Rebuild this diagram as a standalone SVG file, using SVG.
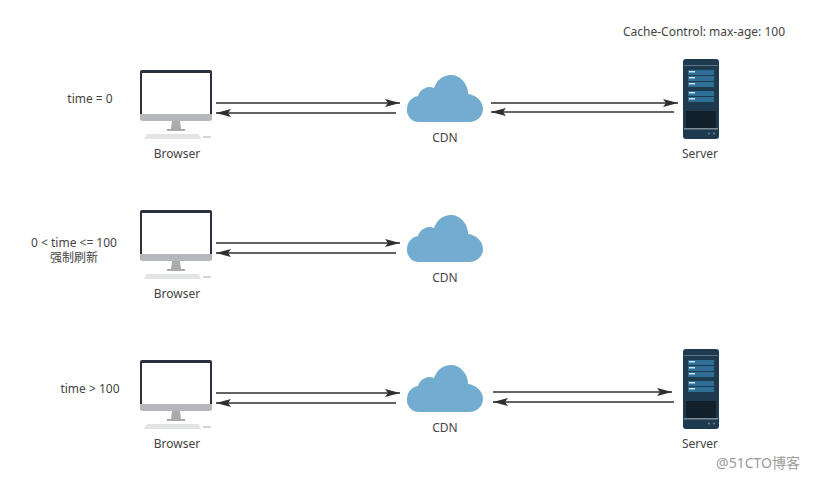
<svg xmlns="http://www.w3.org/2000/svg" width="816" height="480" viewBox="0 0 816 480">
<style>
text{font-family:"Noto Sans","Noto Sans CJK SC",sans-serif;font-size:12px;fill:#444;text-anchor:middle}
.c{stroke:#2f2f2f;stroke-width:1.6;fill:none}
.wm{fill:#9a9a9a;font-size:14px}
</style>
<defs>
<marker id="a" markerUnits="userSpaceOnUse" markerWidth="16" markerHeight="10" refX="15" refY="4" orient="auto"><path d="M0 0L15 4L0 8L3 4Z" fill="#2f2f2f"/></marker>
<g id="pc">
<rect x="0" y="0" width="72" height="50" rx="2" fill="#2a3040"/>
<rect x="2" y="3" width="68" height="41" fill="#fff"/>
<path d="M0 44h72v4a3 3 0 0 1-3 3H3a3 3 0 0 1-3-3Z" fill="#b5b7ba"/>
<path d="M32 51h8l1 8h4v2H27v-2h4Z" fill="#a9abab"/>
<path d="M7 64h52l2 5H4Z" fill="#e3e5e5"/>
<rect x="63" y="66" width="8" height="2" fill="#d5d7d7"/>
</g>
<g id="cl"><path d="M419 122a12 12 0 0 1-12-13c0-7 5-12 11-13a12 12 0 0 1 16-8c3-8 9-13 17-13 9 0 16 8 17 17 0 1 0 2 0 2 8 1 15 7 15 15 0 7-6 13-14 13Z" fill="#72acd0"/></g>
<g id="sv">
<rect x="0" y="0" width="36" height="80" rx="3" fill="#1e3a4e"/>
<rect x="1" y="6" width="34" height="1" fill="#5d7485"/>
<rect x="5" y="11" width="26" height="5" fill="#2f6f95"/><rect x="5" y="17" width="26" height="5" fill="#2f6f95"/>
<rect x="5" y="23" width="26" height="5" fill="#2f6f95"/><rect x="5" y="32" width="26" height="5" fill="#2f6f95"/>
<rect x="5" y="38" width="26" height="5" fill="#2f6f95"/>
<rect x="6" y="12" width="6" height="1.5" fill="#cfe3ee"/><rect x="6" y="18" width="6" height="1.5" fill="#cfe3ee"/><rect x="6" y="24" width="6" height="1.5" fill="#cfe3ee"/><rect x="6" y="33" width="6" height="1.5" fill="#cfe3ee"/><rect x="6" y="39" width="6" height="1.5" fill="#cfe3ee"/>
<rect x="3" y="52" width="30" height="17" fill="#12202c"/>
<rect x="1" y="69" width="34" height="1.5" fill="#7c8c98"/>
<circle cx="26" cy="74.500" r="1" fill="#6d8394"/><circle cx="31" cy="74.500" r="1" fill="#6d8394"/>
</g>
</defs>
<g id="connectors">
<path class="c" marker-end="url(#a)" d="M216 103H400"/><path class="c" marker-end="url(#a)" d="M396 113H216"/>
<path class="c" marker-end="url(#a)" d="M491 103H678"/><path class="c" marker-end="url(#a)" d="M674 112H491"/>
<path class="c" marker-end="url(#a)" d="M216 243H400"/><path class="c" marker-end="url(#a)" d="M396 253H216"/>
<path class="c" marker-end="url(#a)" d="M216 393H400"/><path class="c" marker-end="url(#a)" d="M396 403H216"/>
<path class="c" marker-end="url(#a)" d="M493 392H672"/><path class="c" marker-end="url(#a)" d="M674 402H493"/>
</g>
<g id="browser1"><use href="#pc" x="140" y="70"/><text x="177" y="158">Browser</text></g>
<g id="cdn1"><use href="#cl"/><text x="445" y="142">CDN</text></g>
<g id="server1"><use href="#sv" x="683" y="59"/><text x="700" y="158">Server</text></g>
<g id="browser2"><use href="#pc" x="140" y="210"/><text x="177" y="298">Browser</text></g>
<g id="cdn2"><use href="#cl" y="140"/><text x="445" y="282">CDN</text></g>
<g id="browser3"><use href="#pc" x="140" y="360"/><text x="177" y="448">Browser</text></g>
<g id="cdn3"><use href="#cl" y="290"/><text x="445" y="432">CDN</text></g>
<g id="server3"><use href="#sv" x="683" y="349"/><text x="700" y="448">Server</text></g>
<text x="90" y="103">time = 0</text>
<text x="74" y="247">0 &lt; time &lt;= 100</text>
<text x="74" y="262">强制刷新</text>
<text x="90" y="393">time &gt; 100</text>
<text x="704" y="36">Cache-Control: max-age: 100</text>
<text class="wm" x="758" y="468">@51CTO博客</text>
</svg>
